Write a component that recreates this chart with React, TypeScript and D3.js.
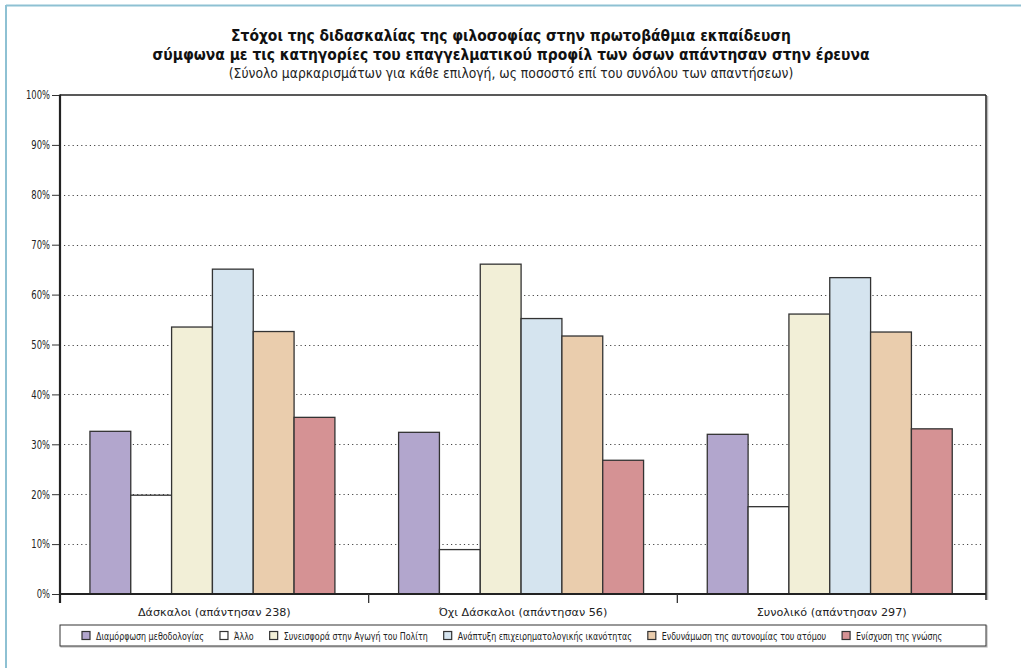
import React, { useEffect, useRef } from "react";
import * as d3 from "d3";

const WIDTH = 1021;
const HEIGHT = 668;

const titleLines = [
  "Στόχοι της διδασκαλίας της φιλοσοφίας στην πρωτοβάθμια εκπαίδευση",
  "σύμφωνα με τις κατηγορίες του επαγγελματικού προφίλ των όσων απάντησαν στην έρευνα",
];
const subtitle =
  "(Σύνολο μαρκαρισμάτων για κάθε επιλογή, ως ποσοστό επί του συνόλου των απαντήσεων)";

const groups = [
  "Δάσκαλοι (απάντησαν 238)",
  "Όχι Δάσκαλοι (απάντησαν 56)",
  "Συνολικό (απάντησαν 297)",
];

const series = [
  "Διαμόρφωση μεθοδολογίας",
  "Άλλο",
  "Συνεισφορά στην Αγωγή του Πολίτη",
  "Ανάπτυξη επιχειρηματολογικής ικανότητας",
  "Ενδυνάμωση της αυτονομίας του ατόμου",
  "Ενίσχυση της γνώσης",
];

const seriesColors = ["#b2a6cd", "#ffffff", "#f2efd7", "#d5e4ef", "#eacdad", "#d59294"];

// percentage per series, one entry per group
const methodology = [32.6, 32.4, 32.0];
const other = [19.8, 8.9, 17.5];
const citizenship = [53.5, 66.1, 56.1];
const argumentation = [65.1, 55.2, 63.4];
const autonomy = [52.6, 51.7, 52.5];
const knowledge = [35.4, 26.8, 33.1];

const seriesValues = [methodology, other, citizenship, argumentation, autonomy, knowledge];

const yTicks = [0, 10, 20, 30, 40, 50, 60, 70, 80, 90, 100];

const NARROW = "'DejaVu Sans Condensed', 'DejaVu Sans', sans-serif";
const ROUND = "'DejaVu Sans', Verdana, sans-serif";

type Sel = d3.Selection<any, unknown, null, undefined>;

// text squeezed horizontally to imitate a narrow typeface
function narrowText(
  parent: Sel, x: number, y: number, text: string, size: number, squeeze: number,
  anchor = "start", weight = "normal", fill = "#222"
) {
  return parent.append("text")
    .attr("transform", `translate(${x},${y}) scale(${squeeze},1)`)
    .attr("text-anchor", anchor)
    .attr("font-family", NARROW)
    .attr("font-size", size)
    .attr("font-weight", weight)
    .attr("fill", fill)
    .text(text);
}

export default function App() {
  const ref = useRef<SVGSVGElement | null>(null);

  useEffect(() => {
    const svg = d3.select(ref.current) as unknown as Sel;
    svg.selectAll("*").remove();

    const margin = { left: 60, right: 35, top: 95, bottom: 74 };
    const plotRight = WIDTH - margin.right;
    const plotBottom = HEIGHT - margin.bottom;

    // frame decoration: top and left rules
    svg.append("line").attr("x1", 6).attr("x2", WIDTH).attr("y1", 5.5).attr("y2", 5.5)
      .attr("stroke", "#8ec1d3").attr("stroke-width", 2);
    svg.append("line").attr("x1", 6).attr("x2", 6).attr("y1", 5).attr("y2", HEIGHT)
      .attr("stroke", "#8ec1d3").attr("stroke-width", 2);

    // titles
    const cx = 511;
    titleLines.forEach((t, i) => {
      narrowText(svg, cx, 41 + i * 19, t, 16.5, 0.935, "middle", "bold", "#111");
    });
    narrowText(svg, cx, 78, subtitle, 13.5, 1.02, "middle", "normal", "#222");

    const y = d3.scaleLinear().domain([0, 100]).range([plotBottom, margin.top]);
    const x0 = d3.scaleBand<string>().domain(groups).range([margin.left, plotRight]).padding(0);
    const x1 = d3.scaleBand<string>().domain(series).range([0, x0.bandwidth()])
      .paddingInner(0).paddingOuter(0.78).align(0.47);

    // dotted gridlines
    svg.append("g").selectAll("line").data(yTicks.filter((t) => t > 0 && t < 100)).join("line")
      .attr("x1", margin.left + 4).attr("x2", plotRight - 2)
      .attr("y1", (d: number) => Math.round(y(d)) + 0.5).attr("y2", (d: number) => Math.round(y(d)) + 0.5)
      .attr("stroke", "#444").attr("stroke-width", 1).attr("stroke-dasharray", "1.2,3.1");

    // bars
    const gGroups = svg.append("g").selectAll("g").data(groups).join("g")
      .attr("transform", (g: string) => `translate(${x0(g)},0)`);
    gGroups.selectAll("rect")
      .data((g: string, gi: number) => series.map((s, si) => ({ s, si, v: seriesValues[si][gi] })))
      .join("rect")
      .attr("x", (d: any) => x1(d.s)!)
      .attr("width", x1.bandwidth())
      .attr("y", (d: any) => y(d.v))
      .attr("height", (d: any) => plotBottom - y(d.v))
      .attr("fill", (d: any) => seriesColors[d.si])
      .attr("stroke", "#333").attr("stroke-width", 1.3);

    // plot frame: top and right rules with light shadow
    svg.append("line").attr("x1", plotRight + 1.5).attr("x2", plotRight + 1.5)
      .attr("y1", margin.top + 1).attr("y2", plotBottom + 6).attr("stroke", "#bbb").attr("stroke-width", 1.5);
    svg.append("line").attr("x1", margin.left).attr("x2", plotRight).attr("y1", margin.top).attr("y2", margin.top)
      .attr("stroke", "#222").attr("stroke-width", 1.5);
    svg.append("line").attr("x1", plotRight).attr("x2", plotRight).attr("y1", margin.top).attr("y2", plotBottom + 6)
      .attr("stroke", "#222").attr("stroke-width", 1.5);

    // y axis: ticks from d3, labels squeezed
    const yAxis = d3.axisLeft(y).tickValues(yTicks).tickSize(8).tickFormat(() => "");
    const gy = svg.append("g").attr("transform", `translate(${margin.left},0)`).call(yAxis as any);
    gy.select(".domain").remove();
    gy.selectAll(".tick line").attr("stroke", "#333").attr("stroke-width", 1);
    yTicks.forEach((t) => {
      narrowText(svg, margin.left - 10, y(t) + 4.3, `${t}%`, 12, 0.78, "end", "normal", "#222");
    });
    svg.append("line").attr("x1", margin.left).attr("x2", margin.left)
      .attr("y1", margin.top - 0.5).attr("y2", plotBottom + 9).attr("stroke", "#222").attr("stroke-width", 2.2);

    // x axis
    svg.append("line").attr("x1", margin.left).attr("x2", plotRight).attr("y1", plotBottom).attr("y2", plotBottom)
      .attr("stroke", "#222").attr("stroke-width", 2.2);
    const boundaries = groups.map((g) => x0(g)!).concat([plotRight]);
    svg.append("g").selectAll("line").data(boundaries.slice(1, -1)).join("line")
      .attr("x1", (d: number) => d).attr("x2", (d: number) => d).attr("y1", plotBottom).attr("y2", plotBottom + 9)
      .attr("stroke", "#333").attr("stroke-width", 1.3);
    svg.append("g").selectAll("text").data(groups).join("text")
      .attr("x", (g: string) => x0(g)! + x0.bandwidth() / 2).attr("y", plotBottom + 22)
      .attr("text-anchor", "middle").attr("font-family", ROUND).attr("font-size", 11.2)
      .attr("fill", "#222").text((g: string) => g);

    // legend
    const legY = 625;
    svg.append("rect").attr("x", margin.left + 1).attr("y", legY + 1).attr("width", plotRight - margin.left)
      .attr("height", 21).attr("fill", "none").attr("stroke", "#bbb").attr("stroke-width", 1.2);
    svg.append("rect").attr("x", margin.left).attr("y", legY).attr("width", plotRight - margin.left)
      .attr("height", 21).attr("fill", "#fff").attr("stroke", "#333").attr("stroke-width", 1);
    const squeeze = 0.8;
    let lx = 82;
    series.forEach((s, i) => {
      svg.append("rect").attr("x", lx).attr("y", legY + 6.5).attr("width", 8).attr("height", 8)
        .attr("fill", seriesColors[i]).attr("stroke", "#333").attr("stroke-width", 1.2);
      const t = narrowText(svg, lx + 14, legY + 15, s, 11, squeeze);
      const w = (t.node() as SVGTextElement).getComputedTextLength() * squeeze;
      lx += 14 + w + 16;
    });
  }, []);

  return (
    <svg ref={ref} width={WIDTH} height={HEIGHT}
      style={{ position: "absolute", left: 0, top: 0, background: "#fff", display: "block" }} />
  );
}
